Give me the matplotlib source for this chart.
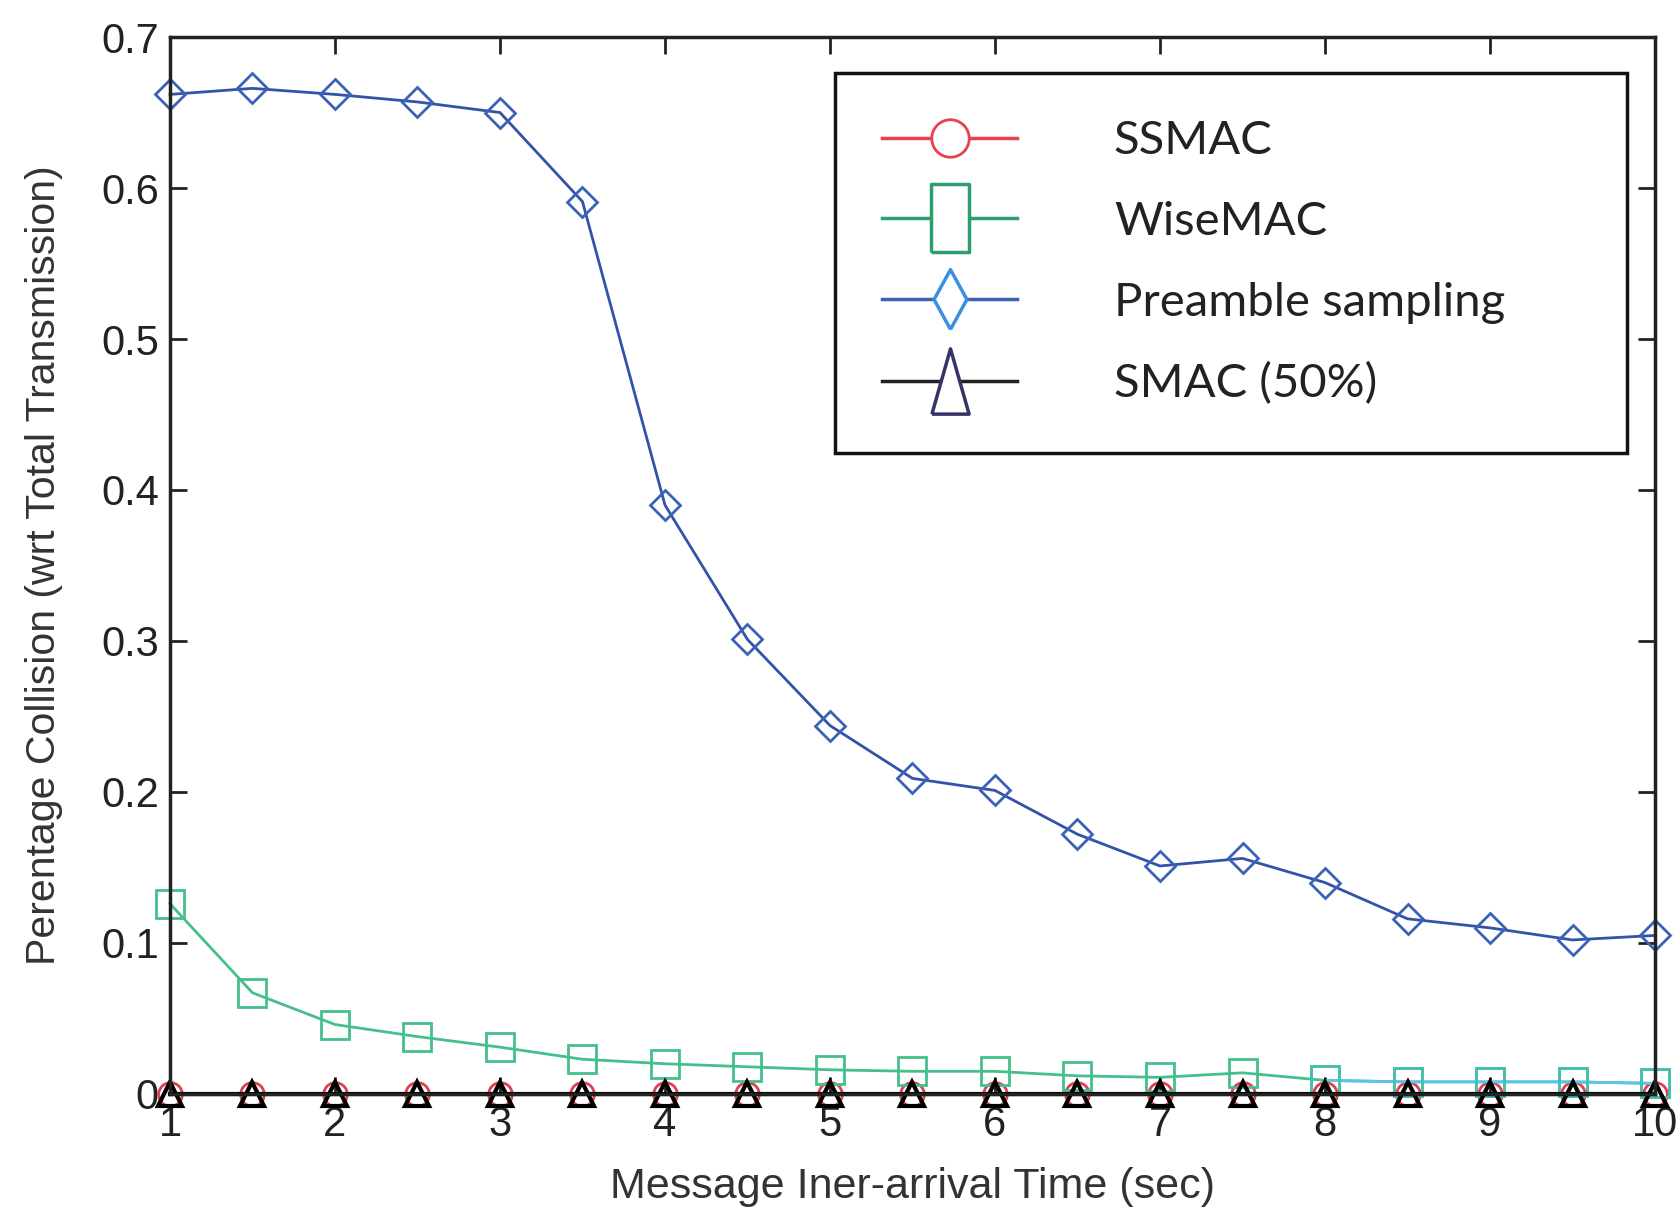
import matplotlib
matplotlib.use("Agg")
import matplotlib.pyplot as plt
from matplotlib.lines import Line2D

# message inter-arrival time (sec)
inter_arrival = [1, 1.5, 2, 2.5, 3, 3.5, 4, 4.5, 5, 5.5, 6, 6.5, 7, 7.5, 8, 8.5, 9, 9.5, 10]

# collision ratio per protocol
ssmac = [0.0, 0.0, 0.0, 0.0, 0.0, 0.0, 0.0, 0.0, 0.0, 0.0,
         0.0, 0.0, 0.0, 0.0, 0.0, 0.0, 0.0, 0.0, 0.0]
wisemac = [0.126, 0.067, 0.046, 0.038, 0.031, 0.023, 0.020, 0.018, 0.016, 0.015,
           0.015, 0.012, 0.011, 0.014, 0.009, 0.008, 0.008, 0.008, 0.007]
preamble = [0.662, 0.666, 0.662, 0.657, 0.650, 0.591, 0.390, 0.301, 0.244, 0.209,
            0.201, 0.172, 0.151, 0.156, 0.140, 0.116, 0.110, 0.102, 0.105]
smac = [0.0, 0.0, 0.0, 0.0, 0.0, 0.0, 0.0, 0.0, 0.0, 0.0,
        0.0, 0.0, 0.0, 0.0, 0.0, 0.0, 0.0, 0.0, 0.0]

names = ["SSMAC", "WiseMAC", "Preamble sampling", "SMAC (50%)"]

tick_font = ["Liberation Sans", "DejaVu Sans"]
label_font = ["Liberation Sans", "DejaVu Sans"]

fig = plt.figure(figsize=(16.78, 12.10), dpi=100)
ax = fig.add_axes([0.1013, 0.0959, 0.8850, 0.8735])

ax.plot(inter_arrival, ssmac, color="#e04050", linewidth=2, marker="o",
        markersize=17, markerfacecolor="none", markeredgewidth=2, clip_on=False)
ax.plot(inter_arrival, wisemac, color="#45c08a", linewidth=2, marker="s",
        markersize=20, markerfacecolor="none", markeredgewidth=2, clip_on=False)
# the tail of the WiseMAC curve is drawn in light blue in the original
ax.plot(inter_arrival[14:], wisemac[14:], color="#5cc4ec", linewidth=2,
        marker="s", markersize=20, markerfacecolor="none",
        markeredgecolor="#45c0b0", markeredgewidth=2, clip_on=False)
ax.plot(inter_arrival, preamble, color="#3353a8", linewidth=2, marker="D",
        markersize=15, markerfacecolor="none", markeredgecolor="#3a63b8",
        markeredgewidth=2, clip_on=False)
ax.plot(inter_arrival, smac, color="black", linewidth=3, marker="^",
        markersize=17, markerfacecolor="none", markeredgewidth=3, clip_on=False)

ax.set_xlim(1, 10)
ax.set_ylim(0, 0.7)
ax.set_xticks(range(1, 11))
ax.set_yticks([0, 0.1, 0.2, 0.3, 0.4, 0.5, 0.6, 0.7])
ax.set_yticklabels(["0", "0.1", "0.2", "0.3", "0.4", "0.5", "0.6", "0.7"])
ax.tick_params(direction="in", length=12, width=2, top=True, right=True,
               labelsize=30, colors="#222222")
ax.tick_params(axis="x", pad=8)
ax.tick_params(axis="y", pad=8)
for lab in ax.get_xticklabels() + ax.get_yticklabels():
    lab.set_family(tick_font)
for sp in ax.spines.values():
    sp.set_linewidth(2.5)
    sp.set_color("#222222")

ax.set_xlabel("Message Iner-arrival Time (sec)", fontsize=31,
              family=label_font, color="#333333", labelpad=16)
ax.set_ylabel("Perentage Collision (wrt Total Transmission)", fontsize=29.5,
              family=label_font, color="#333333", labelpad=27)

# legend in the original is a pasted picture with stretched markers
tall_square = [(-0.57, -1), (0.57, -1), (0.57, 1), (-0.57, 1), (-0.57, -1)]
tall_diamond = [(0, -1), (0.55, 0), (0, 1), (-0.55, 0), (0, -1)]
tall_triangle = [(-0.57, -1), (0.57, -1), (0, 1), (-0.57, -1)]
handles = [
    Line2D([], [], color="#e8404f", linewidth=2.5, marker="o", markersize=27,
           markerfacecolor="white", markeredgewidth=2),
    Line2D([], [], color="#2e9e6e", linewidth=2.5, marker=tall_square,
           markersize=49, markerfacecolor="white", markeredgewidth=2.5),
    Line2D([], [], color="#3a62b0", linewidth=2.5, marker=tall_diamond,
           markersize=43, markerfacecolor="white", markeredgecolor="#3a8fe0",
           markeredgewidth=2.5),
    Line2D([], [], color="#222222", linewidth=2.5, marker=tall_triangle,
           markersize=47, markerfacecolor="white", markeredgecolor="#333366",
           markeredgewidth=2.5),
]
leg = ax.legend(handles, names, loc="upper left",
                bbox_to_anchor=(0.448, 0.5875, 0.533, 0.3785), mode="expand",
                prop={"family": ["Lato", "DejaVu Sans"], "size": 34},
                frameon=True, fancybox=False, framealpha=1, edgecolor="#111111",
                borderpad=1.0, labelspacing=0.82, handlelength=2.85,
                handletextpad=2.05, borderaxespad=0)
leg.get_frame().set_linewidth(2.5)
for t in leg.get_texts():
    t.set_color("#222222")

fig.savefig("out.png", dpi=100)
